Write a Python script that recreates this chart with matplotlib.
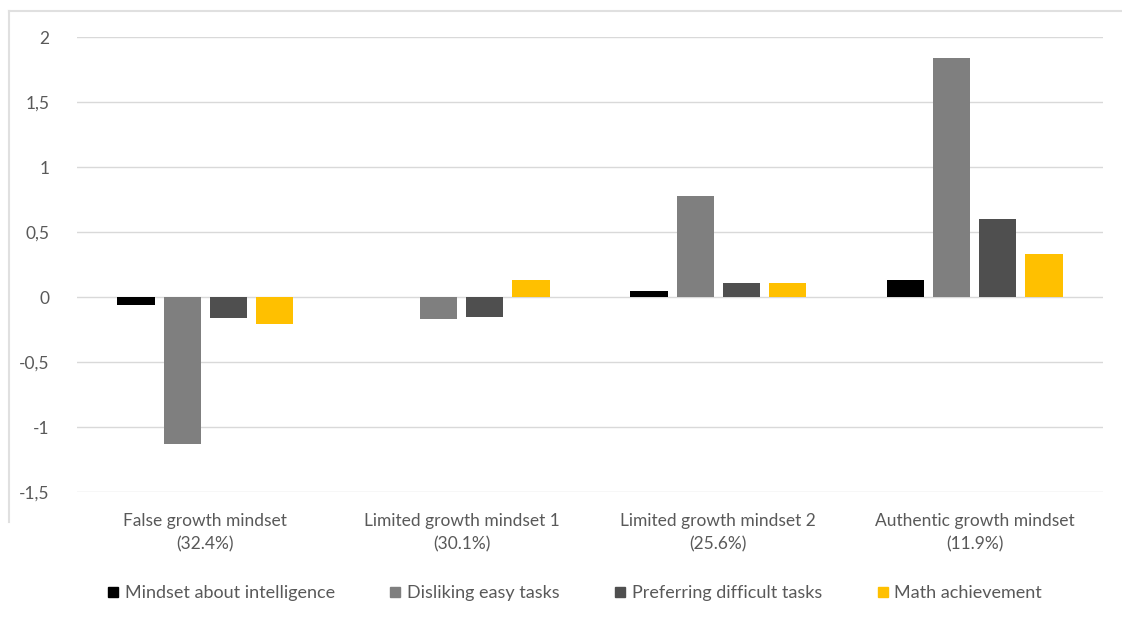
import matplotlib
matplotlib.use("Agg")
import matplotlib.pyplot as plt
import numpy as np
from matplotlib.lines import Line2D

# ---------------------------------------------------------------------------
# Data
# ---------------------------------------------------------------------------

categories = [
    "False growth mindset\n(32.4%)",
    "Limited growth mindset 1\n(30.1%)",
    "Limited growth mindset 2\n(25.6%)",
    "Authentic growth mindset\n(11.9%)",
]
series_names = [
    "Mindset about intelligence",
    "Disliking easy tasks",
    "Preferring difficult tasks",
    "Math achievement",
]
mindset_intelligence = [-0.06, 0.0, 0.05, 0.13]
disliking_easy = [-1.13, -0.17, 0.78, 1.84]
preferring_difficult = [-0.16, -0.15, 0.11, 0.60]
math_achievement = [-0.21, 0.13, 0.11, 0.33]
yticks = [-1.5, -1, -0.5, 0, 0.5, 1, 1.5, 2]
ytick_labels = ["-1,5", "-1", "-0,5", "0", "0,5", "1", "1,5", "2"]

COLORS = ["#000000", "#7F7F7F", "#4F4F4F", "#FFC000"]
TEXT = "#595959"
GRID = "#D9D9D9"

plt.rcParams["font.family"] = ["Lato", "DejaVu Sans"]

fig = plt.figure(figsize=(11.22, 6.21), dpi=100)
ax = fig.add_axes([77 / 1122, 1 - 492 / 621, 1026 / 1122, 455 / 621])

x = np.arange(len(categories))
width = 0.145
step = 0.18
all_series = [mindset_intelligence, disliking_easy, preferring_difficult, math_achievement]
for i, (vals, color) in enumerate(zip(all_series, COLORS)):
    ax.bar(x + (i - 1.5) * step, vals, width=width, color=color, zorder=3)

ax.set_xlim(-0.5, len(categories) - 0.5)
ax.set_ylim(-1.5, 2)
ax.set_yticks(yticks)
ax.set_yticklabels(ytick_labels)
ax.set_xticks(x)
ax.set_xticklabels(categories, linespacing=1.6)
ax.tick_params(axis="both", length=0, colors=TEXT, labelsize=12.5)
ax.tick_params(axis="x", pad=15)
ax.tick_params(axis="y", pad=20)
ax.grid(axis="y", color=GRID, linewidth=1, zorder=0)
for s in ax.spines.values():
    s.set_visible(False)

# legend
handles = [
    Line2D([], [], marker="s", linestyle="none", markersize=7, color=c)
    for c in COLORS
]
fig.legend(
    handles, series_names, loc="center", ncol=4,
    bbox_to_anchor=(0.512, 1 - 593 / 621), frameon=False,
    fontsize=13, labelcolor=TEXT, handlelength=0.7, handletextpad=0.3,
    columnspacing=3.0,
)

# faint frame lines at top and left
fig.add_artist(Line2D([9 / 1122, 1], [1 - 11 / 621, 1 - 11 / 621],
                      color="#E0E0E0", linewidth=1.5))
fig.add_artist(Line2D([9 / 1122, 9 / 1122], [1 - 11 / 621, 1 - 522 / 621],
                      color="#E0E0E0", linewidth=1.5))

fig.savefig("out.png", dpi=100, facecolor="white")
